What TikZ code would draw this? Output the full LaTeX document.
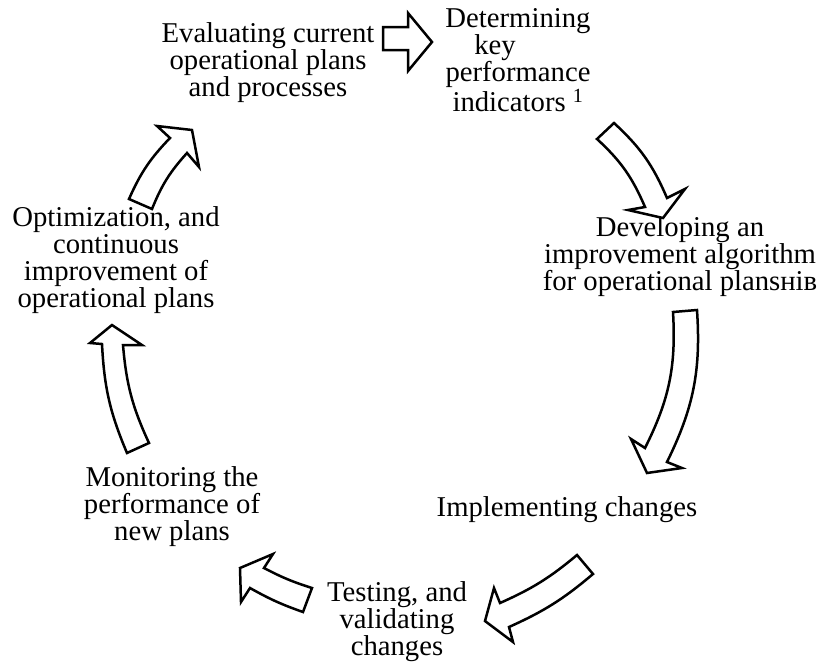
\documentclass[tikz,border=0pt]{standalone}
\usepackage{fontspec}
\setmainfont{Liberation Serif}
\usepackage{tikz}
\newcommand{\fs}{\fontsize{28.7}{27}\selectfont}
\newcommand{\fst}{\fontsize{28.7}{24}\selectfont}
\newcommand{\blockarrow}[8]{\draw[arrowbox] (#1) to[bend left = #8] (#2) -- (#3) -- (#4) -- (#5) -- (#6) to[bend right = #8] (#7) -- cycle;}

\begin{document}
\begin{tikzpicture}[x = 1pt, y = -1pt,
    stage/.style = {align = center, inner sep = 0pt, font = \fs},
    arrowbox/.style = {draw, fill = white, line width = 2.5pt}]
    \useasboundingbox (0,0) rectangle (822,662);
    \node[stage] (eval) at (268,63) {Evaluating current\\operational plans\\and processes};
    \node[stage, font = \fst] (kpi) at (518,60) {Determining\\key\rule{46pt}{0pt}\\performance\\indicators \textsuperscript{1}};
    \node[stage] (algo) at (680,257) {Developing an\\improvement algorithm\\for operational plansнів};
    \node[stage] (impl) at (567,510) {Implementing changes};
    \node[stage, font = \fst] (test) at (397,622) {Testing, and\\validating\\changes};
    \node[stage] (mon) at (172,507) {Monitoring the\\performance of\\new plans};
    \node[stage] (opt) at (116,260) {Optimization, and\\continuous\\improvement of\\operational plans};
    \blockarrow{383,27}{408,27}{408,13}{432,42}{408,71}{408,50}{383,50}{0}
    \blockarrow{597,139}{645,207}{628,210}{663,218}{685,189}{667,198}{614,123}{12}
    \blockarrow{673,312}{645,448}{631,439}{647,473}{682,468}{667,462}{697,310}{15}
    \blockarrow{577,555}{500,603}{494,588}{485,621}{513,642}{509,627}{593,574}{8}
    \blockarrow{312,588}{264,568}{273,554}{240,568}{241,602}{250,588}{303,612}{5}
    \blockarrow{127,453}{102,344}{90,343}{112,325}{142,345}{123,345}{149,443}{10}
    \blockarrow{129,199}{170,138}{157,126}{192,130}{199,167}{187,153}{152,209}{10}
  \end{tikzpicture}
\end{document}
